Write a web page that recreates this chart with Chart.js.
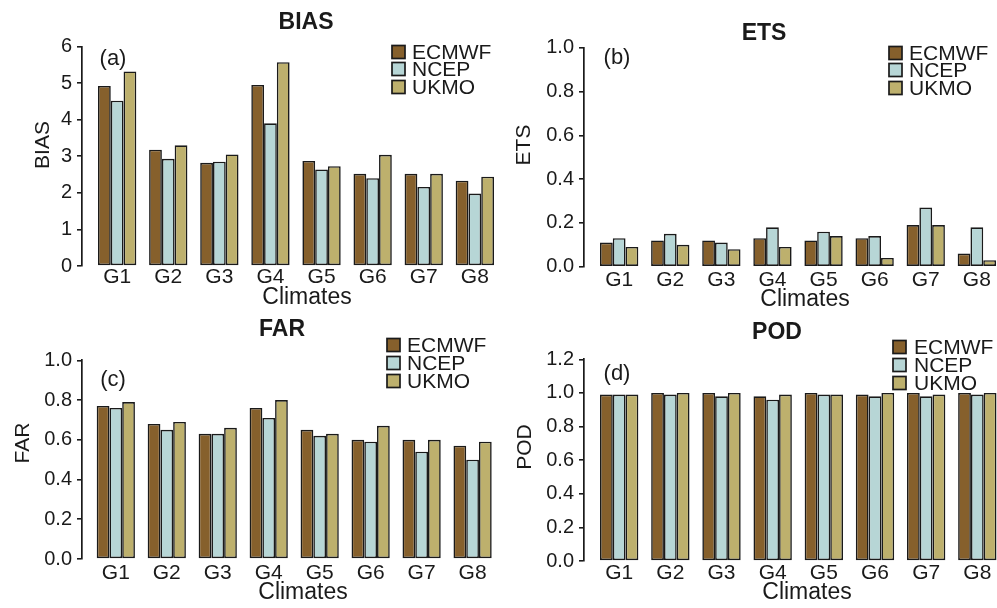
<!DOCTYPE html>
<html><head><meta charset="utf-8">
<script src="https://cdn.jsdelivr.net/npm/chart.js@4.4.1/dist/chart.umd.min.js"></script>
<style>
html,body{margin:0;padding:0;background:#fff;overflow:hidden;}
#wrap{position:relative;width:997px;height:608px;}
canvas{position:absolute;left:0;top:0;}
</style></head><body>
<div id="wrap">
<canvas id="pa" width="997" height="608"></canvas>
<canvas id="pb" width="997" height="608"></canvas>
<canvas id="pc" width="997" height="608"></canvas>
<canvas id="pd" width="997" height="608"></canvas>
</div>
<script>
// ---------------- data ----------------
const categories = ['G1','G2','G3','G4','G5','G6','G7','G8'];
const models = ['ECMWF','NCEP','UKMO'];

const biasECMWF = [4.92,3.18,2.82,4.95,2.87,2.52,2.52,2.33];
const biasNCEP  = [4.52,2.93,2.85,3.90,2.64,2.40,2.16,1.98];
const biasUKMO  = [5.32,3.30,3.05,5.57,2.73,3.04,2.52,2.44];

const etsECMWF = [0.11,0.12,0.12,0.13,0.12,0.13,0.19,0.06];
const etsNCEP  = [0.13,0.15,0.11,0.18,0.16,0.14,0.27,0.18];
const etsUKMO  = [0.09,0.10,0.08,0.09,0.14,0.04,0.19,0.03];

const farECMWF = [0.77,0.68,0.63,0.76,0.65,0.60,0.60,0.57];
const farNCEP  = [0.76,0.65,0.63,0.71,0.62,0.59,0.54,0.50];
const farUKMO  = [0.79,0.69,0.66,0.80,0.63,0.67,0.60,0.59];

const podECMWF = [0.99,1.00,1.00,0.98,1.00,0.99,1.00,1.00];
const podNCEP  = [0.99,0.99,0.98,0.96,0.99,0.98,0.98,0.99];
const podUKMO  = [0.99,1.00,1.00,0.99,0.99,1.00,0.99,1.00];

const biasTicks = [0,1,2,3,4,5,6];
const etsTicks  = [0,0.2,0.4,0.6,0.8,1.0];
const farTicks  = [0,0.2,0.4,0.6,0.8,1.0];
const podTicks  = [0,0.2,0.4,0.6,0.8,1.0,1.2];

// ---------------- style ----------------
const modelColors = ['#86602C','#B7D6D6','#BDB06D'];
const ink = '#1a1a1a';
const FAM = '"Liberation Sans", Arial, Helvetica, sans-serif';
Chart.defaults.font.family = FAM;
Chart.defaults.color = ink;

const panels = [
  {id:'pa', series:[biasECMWF,biasNCEP,biasUKMO], ticks:biasTicks, dec:0,
   axisX:82, top:46.5, bottom:266, g1Left:98, g8Right:494, right:510, xPad:-1,
   title:{t:'BIAS',x:306,y:23}, tag:{t:'(a)',x:113,y:59}, ylab:{t:'BIAS',x:43,y:145},
   xlab:{t:'Climates',x:307,y:298}, legend:{sq:392,tx:412,rows:[52,69,87]}},
  {id:'pb', series:[etsECMWF,etsNCEP,etsUKMO], ticks:etsTicks, dec:1,
   axisX:584, top:47.7, bottom:266.7, g1Left:600, g8Right:996, right:997, xPad:1,
   title:{t:'ETS',x:764,y:34}, tag:{t:'(b)',x:617,y:58}, ylab:{t:'ETS',x:524,y:145},
   xlab:{t:'Climates',x:805,y:300}, legend:{sq:889,tx:909,rows:[53,70,88]}},
  {id:'pc', series:[farECMWF,farNCEP,farUKMO], ticks:farTicks, dec:1,
   axisX:82, top:360.3, bottom:559, g1Left:96.7, g8Right:491.7, right:508, xPad:2,
   title:{t:'FAR',x:282,y:330}, tag:{t:'(c)',x:113,y:380}, ylab:{t:'FAR',x:23,y:443},
   xlab:{t:'Climates',x:303,y:593}, legend:{sq:387,tx:407,rows:[345,363,381]}},
  {id:'pd', series:[podECMWF,podNCEP,podUKMO], ticks:podTicks, dec:1,
   axisX:584, top:359.3, bottom:561, g1Left:600, g8Right:996.5, right:997, xPad:0,
   title:{t:'POD',x:777,y:333}, tag:{t:'(d)',x:617,y:374}, ylab:{t:'POD',x:525,y:447},
   xlab:{t:'Climates',x:807,y:593}, legend:{sq:893,tx:914,rows:[347,365,383]}}
];

const Y_AXIS_W = 70, X_AXIS_H = 30;

const textPlugin = {
  id:'panelText',
  afterDraw(chart){
    const p = chart.options.plugins.panelText;
    const ctx = chart.ctx;
    ctx.save();
    ctx.fillStyle = ink;
    ctx.textBaseline = 'middle';
    ctx.textAlign = 'center';
    ctx.font = 'bold 23px ' + FAM;
    ctx.fillText(p.title.t, p.title.x, p.title.y);
    ctx.font = '22px ' + FAM;
    ctx.fillText(p.tag.t, p.tag.x, p.tag.y);
    ctx.font = '23px ' + FAM;
    ctx.fillText(p.xlab.t, p.xlab.x, p.xlab.y);
    ctx.save();
    ctx.translate(p.ylab.x, p.ylab.y);
    ctx.rotate(-Math.PI/2);
    ctx.font = '21px ' + FAM;
    ctx.fillText(p.ylab.t, 0, 0);
    ctx.restore();
    // legend
    ctx.textAlign = 'left';
    ctx.font = '21px ' + FAM;
    models.forEach((m,i)=>{
      const y = p.legend.rows[i];
      ctx.fillStyle = modelColors[i];
      ctx.fillRect(p.legend.sq, y-6.5, 13, 13);
      ctx.strokeStyle = ink; ctx.lineWidth = 1.7;
      ctx.strokeRect(p.legend.sq, y-6.5, 13, 13);
      ctx.fillStyle = ink;
      ctx.fillText(m, p.legend.tx, y+1);
    });
    ctx.restore();
  }
};

panels.forEach(p=>{
  const unitPx = (p.g8Right - p.g1Left)/31;
  const idxPx = unitPx*4;
  const c0 = p.g1Left + unitPx*1.5;
  const xmin = (p.axisX - c0)/idxPx;
  const xmax = (p.right - c0)/idxPx;
  const ymax = p.ticks[p.ticks.length-1];
  new Chart(document.getElementById(p.id), {
    type:'bar',
    data:{
      datasets: models.map((m,k)=>({
        label:m,
        data: categories.map((c,i)=>({x:i, y:p.series[k][i]})),
        backgroundColor: modelColors[k],
        borderColor: ink,
        borderWidth: 1.6,
        borderSkipped: false,
        categoryPercentage: 0.75,
        barPercentage: 1.0
      }))
    },
    options:{
      responsive:false, animation:false, devicePixelRatio:1,
      events:[],
      layout:{padding:{left:p.axisX - Y_AXIS_W, top:p.top, right:997 - p.right, bottom:608 - p.bottom - X_AXIS_H}},
      plugins:{legend:{display:false}, tooltip:{enabled:false}, title:{display:false},
        panelText:p},
      scales:{
        x:{type:'linear', min:xmin, max:xmax, offset:false,
           grid:{display:false, drawTicks:false}, border:{display:false},
           afterBuildTicks:(s)=>{ s.ticks = categories.map((c,i)=>({value:i})); },
           afterFit:(s)=>{ s.height = X_AXIS_H; },
           ticks:{autoSkip:false, maxRotation:0, padding:p.xPad, color:ink,
             font:{size:21}, callback:(v)=>categories[Math.round(v)]}},
        y:{type:'linear', min:0, max:ymax,
           afterBuildTicks:(s)=>{ s.ticks = p.ticks.map(v=>({value:v})); },
           afterFit:(s)=>{ s.width = Y_AXIS_W; },
           grid:{drawOnChartArea:false, drawTicks:true, tickLength:5, color:ink, lineWidth:1.6},
           border:{display:true, color:ink, width:1.7},
           ticks:{padding:5, color:ink, font:{size:20}, callback:(v)=>Number(v).toFixed(p.dec)}}
      }
    },
    plugins:[textPlugin]
  });
});
</script>
</body></html>
